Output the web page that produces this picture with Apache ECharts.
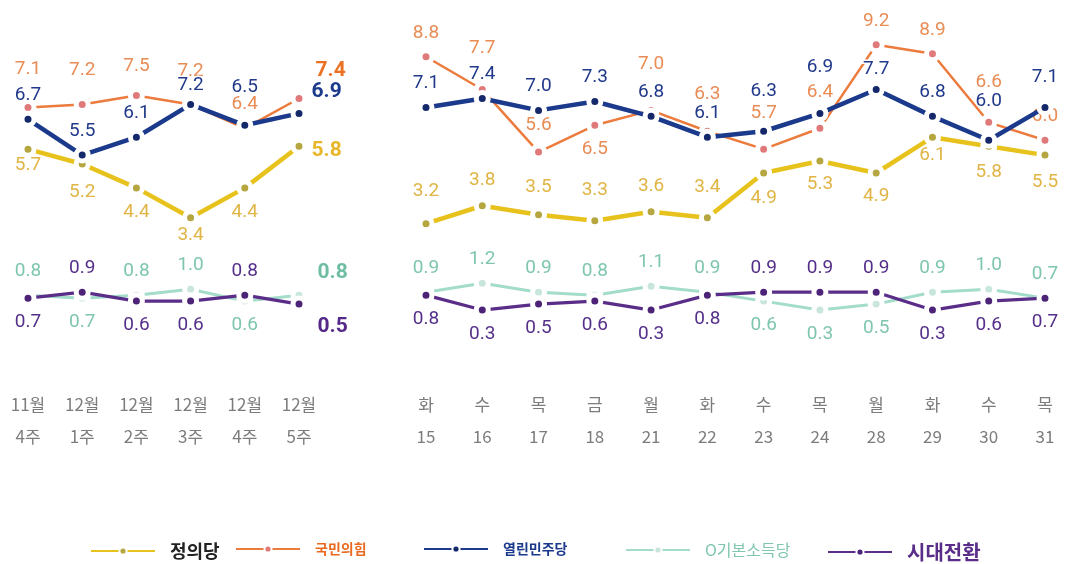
<!DOCTYPE html>
<html>
<head>
<meta charset="utf-8">
<script src="https://cdn.jsdelivr.net/npm/echarts@6/dist/echarts.min.js"></script>
<style>
  html, body { margin: 0; padding: 0; background: #fff; }
  #chart { width: 1067px; height: 564px; }
</style>
</head>
<body>
<div id="chart"></div>
<script>
// categories
const weekCats = ['11월\n4주', '12월\n1주', '12월\n2주', '12월\n3주', '12월\n4주', '12월\n5주']
const dayCats = ['화\n15', '수\n16', '목\n17', '금\n18', '월\n21', '화\n22', '수\n23', '목\n24', '월\n28', '화\n29', '수\n30', '목\n31']

// weekly values (%)
const justiceWeek = [5.7, 5.2, 4.4, 3.4, 4.4, 5.8]
const pppWeek = [7.1, 7.2, 7.5, 7.2, 6.4, 7.4]
const openWeek = [6.7, 5.5, 6.1, 7.2, 6.5, 6.9]
const basicWeek = [0.8, 0.7, 0.8, 1.0, 0.6, 0.8]
const transWeek = [0.7, 0.9, 0.6, 0.6, 0.8, 0.5]

// daily values (%)
const justiceDay = [3.2, 3.8, 3.5, 3.3, 3.6, 3.4, 4.9, 5.3, 4.9, 6.1, 5.8, 5.5]
const pppDay = [8.8, 7.7, 5.6, 6.5, 7.0, 6.3, 5.7, 6.4, 9.2, 8.9, 6.6, 6.0]
const openDay = [7.1, 7.4, 7.0, 7.3, 6.8, 6.1, 6.3, 6.9, 7.7, 6.8, 6.0, 7.1]
const basicDay = [0.9, 1.2, 0.9, 0.8, 1.1, 0.9, 0.6, 0.3, 0.5, 0.9, 1.0, 0.7]
const transDay = [0.8, 0.3, 0.5, 0.6, 0.3, 0.8, 0.9, 0.9, 0.9, 0.3, 0.6, 0.7]

const chart = echarts.init(document.getElementById('chart'))
const NUM_FONT = '"Liberation Sans Narrow", "Roboto", sans-serif'
const KR_FONT = '"Noto Sans CJK KR", sans-serif'

// party styling: label side per point (T = top, B = bottom), extra label lift
const parties = [
  {
    name: '정의당', line: '#e8c21c', dot: '#b5a640', text: '#e0b545', bold: '#e8b628', width: 4.5, z: 3,
    week: justiceWeek, day: justiceDay,
    sideW: 'BBBBB', sideD: 'TTTTTTBBBBBB',
    liftW: [-8, 4, 0, -6, 0], liftD: [8, 2, 3, 6, 1, 6, 1, -1, -1, -6, 2, 3],
    lastOffset: [0, 5]
  },
  {
    name: '국민의힘', line: '#ec7b3e', dot: '#e07a7a', text: '#e98c55', bold: '#ea7222', width: 2.5, z: 4,
    week: pppWeek, day: pppDay,
    sideW: 'TTTTT', sideD: 'TTTBTTTTTTTT',
    liftW: [14, 10, 5, 9, 0], liftD: [0, 17, 3, 0, 22, 13, 12, 12, 0, 0, 16, 0],
    lastOffset: [4, -28]
  },
  {
    name: '열린민주당', line: '#1c3a8c', dot: '#14286a', text: '#20398a', bold: '#1c3a8c', width: 4.5, z: 5,
    week: openWeek, day: openDay,
    sideW: 'TTTTT', sideD: 'TTTTTTTTTTTT',
    liftW: [0, 0, 0, -5, 14], liftD: [0, 0, 0, 0, 0, 0, 16, 22, -4, 0, 15, 6],
    lastOffset: [0, -22]
  },
  {
    name: '기본소득당', line: '#a3dccb', dot: '#c9e6dc', text: '#7fc6ae', bold: '#6fbea3', width: 3, z: 1,
    week: basicWeek, day: basicDay,
    sideW: 'TBTTB', sideD: 'TTTTTTBBBTTT',
    liftW: [], liftD: [],
    lastOffset: [6, -22]
  },
  {
    name: '시대전환', line: '#5a2d88', dot: '#4d2378', text: '#55308a', bold: '#55288a', width: 3.2, z: 2,
    week: transWeek, day: transDay,
    sideW: 'BTBBT', sideD: 'BBBBBBTTTBBB',
    liftW: [], liftD: [],
    lastOffset: [6, 23]
  }
]

function buildData(p, values, sides, lifts, isWeek) {
  return values.map((v, i) => {
    if (isWeek && i === values.length - 1) {
      return {
        value: v,
        label: {
          position: 'right', distance: 4, offset: p.lastOffset,
          fontWeight: 'bold', fontSize: 21, color: p.bold
        }
      }
    }
    const side = sides[i] === 'T' ? 'top' : 'bottom'
    return { value: v, label: { position: side, distance: 6 + (lifts[i] || 0) } }
  })
}

const series = []
parties.forEach(p => {
  const common = {
    name: p.name,
    type: 'line',
    z: p.z,
    symbol: 'circle',
    symbolSize: 12,
    showAllSymbol: true,
    lineStyle: { color: p.line, width: p.width },
    itemStyle: { color: p.dot, borderColor: '#fff', borderWidth: 5 },
    label: {
      show: true,
      color: p.text,
      fontFamily: NUM_FONT,
      fontSize: 19,
      textBorderColor: '#fff',
      textBorderWidth: 3,
      formatter: d => d.value.toFixed(1)
    },
    emphasis: { disabled: true }
  }
  series.push(Object.assign({}, common, {
    xAxisIndex: 0, yAxisIndex: 0,
    data: buildData(p, p.week, p.sideW, p.liftW, true)
  }))
  series.push(Object.assign({}, common, {
    xAxisIndex: 1, yAxisIndex: 1,
    data: buildData(p, p.day, p.sideD, p.liftD, false)
  }))
})

const xAxisBase = {
  type: 'category',
  boundaryGap: false,
  axisLine: { show: false },
  axisTick: { show: false },
  splitLine: { show: false },
  axisLabel: {
    color: '#7c7c7c', fontSize: 17, lineHeight: 32, margin: 70,
    fontFamily: KR_FONT, interval: 0
  }
}
const yAxisBase = { type: 'value', min: 0, max: 10, show: false }

// legend: one block per party, text in party colours
const legendText = {
  '정의당': { color: '#222', fontSize: 18, fontWeight: 'bold' },
  '국민의힘': { color: '#ea6a1f', fontSize: 14, fontWeight: 'bold' },
  '열린민주당': { color: '#1c3a8c', fontSize: 14, fontWeight: 'bold' },
  '기본소득당': { color: '#7fc6ae', fontSize: 16 },
  '시대전환': { color: '#5a2d88', fontSize: 20, fontWeight: 'bold' }
}
const legendLeft = [85, 230, 418, 620, 822]
const legends = parties.map((p, i) => ({
  data: [p.name],
  left: legendLeft[i],
  top: 537,
  itemWidth: 64,
  itemHeight: 9,
  itemGap: 0,
  selectedMode: false,
  itemStyle: { color: p.dot, borderColor: '#fff', borderWidth: 2 },
  textStyle: Object.assign({ fontFamily: KR_FONT, padding: [0, 0, 0, 10] }, legendText[p.name]),
  formatter: n => n === '기본소득당' ? 'O' + n : n
}))

chart.setOption({
  backgroundColor: '#fff',
  animation: false,
  grid: [
    { left: 28, top: 21, width: 271, height: 298 },
    { left: 426, top: 21, width: 619, height: 298 }
  ],
  xAxis: [
    Object.assign({}, xAxisBase, { gridIndex: 0, data: weekCats }),
    Object.assign({}, xAxisBase, { gridIndex: 1, data: dayCats })
  ],
  yAxis: [
    Object.assign({}, yAxisBase, { gridIndex: 0 }),
    Object.assign({}, yAxisBase, { gridIndex: 1 })
  ],
  legend: legends,
  series: series
})
</script>
</body>
</html>
